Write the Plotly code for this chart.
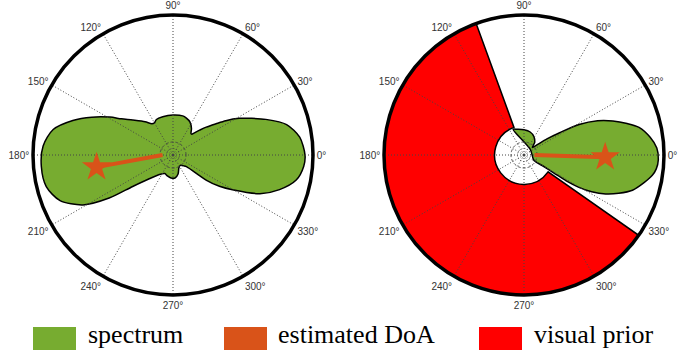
import numpy as np
import plotly.graph_objects as go

W, H = 694, 351

GREEN = "#77AC30"
ORANGE = "#D95319"
RED = "#FF0000"
GRID = "#444444"

# Spatial spectrum outline, left panel (angle in degrees, normalised magnitude)
spec_left_theta = [0, 8, 15, 21, 25, 29, 33, 36, 40, 43, 46, 48, 50, 55, 63, 70, 76,
                   90, 105, 115, 120, 124, 130, 139, 145, 149, 155, 161, 168, 176,
                   185, 194, 202, 209, 214, 218, 225, 235, 246, 255, 265, 275, 285,
                   295, 305, 315, 319, 323, 326, 330, 336, 342, 348.5, 355]
spec_left_r = [0.943, 0.914, 0.84, 0.71, 0.62, 0.54, 0.45, 0.38, 0.31, 0.26, 0.22, 0.20,
               0.20, 0.23, 0.266, 0.28, 0.288, 0.286, 0.283, 0.28, 0.265, 0.27, 0.31,
               0.38, 0.45, 0.526, 0.64, 0.757, 0.875, 0.93, 0.944, 0.933, 0.87, 0.735,
               0.55, 0.365, 0.24, 0.17, 0.145, 0.155, 0.165, 0.165, 0.14, 0.10, 0.09,
               0.11, 0.127, 0.30, 0.40, 0.50, 0.68, 0.80, 0.898, 0.937]

# Spatial spectrum outline after applying the visual prior, right panel
spec_right_theta = [113, 105, 90, 75, 62, 50, 42, 38, 35, 32, 29, 25, 21, 17, 13.5, 8,
                    3, -2, -6, -9, -13, -18, -22, -25.5, -28.5, -30.5, -31.5, -31, -30,
                    -28, 40]
spec_right_r = [0.20, 0.19, 0.18, 0.17, 0.15, 0.12, 0.08, 0.12, 0.20, 0.30, 0.45, 0.58,
                0.68, 0.77, 0.845, 0.91, 0.95, 0.96, 0.95, 0.928, 0.88, 0.815, 0.73,
                0.646, 0.55, 0.455, 0.35, 0.25, 0.15, 0.08, 0.06]

# Estimated direction of arrival: [arrow start, arrow tip]
doa_left_theta = [180, 189]
doa_left_r = [0.075, 0.553]
doa_right_theta = [0, 358.5]
doa_right_r = [0.075, 0.58]

# Visual prior sector (right panel)
prior_start = 110
prior_end = 325
prior_inner = 0.21
prior_outer = 1.0

angle_ticks = list(range(0, 360, 30))
angle_labels = [f"{a}°" for a in angle_ticks]
ring_levels = [0.047, 0.093]
ring_dashes = ["1px,2px", "3px,2px"]

legend_names = ["spectrum", "estimated DoA", "visual prior"]
legend_colors = [GREEN, ORANGE, RED]
legend_box_x = [33, 224, 479]     # left edge of each swatch, px
legend_text_x = [86, 276, 532]

fig = go.Figure()


def add_grid(subplot):
    # dotted spokes every 30 degrees, drawn over the filled areas
    th, rr = [], []
    for a in angle_ticks:
        th += [a, a, None]
        rr += [0, 1, None]
    fig.add_trace(go.Scatterpolar(theta=th, r=rr, mode="lines", subplot=subplot,
                                  line=dict(color=GRID, width=1, dash="1px,2px"),
                                  hoverinfo="skip", showlegend=False))
    ring_theta = np.linspace(0, 360, 181)
    for lvl, dash in zip(ring_levels, ring_dashes):
        fig.add_trace(go.Scatterpolar(theta=ring_theta, r=np.full(ring_theta.size, lvl),
                                      mode="lines", subplot=subplot,
                                      line=dict(color=GRID, width=1, dash=dash),
                                      hoverinfo="skip", showlegend=False))
    fig.add_trace(go.Scatterpolar(theta=[0], r=[0], mode="markers", subplot=subplot,
                                  marker=dict(color=GRID, size=3),
                                  hoverinfo="skip", showlegend=False))


def add_doa(subplot, theta, r):
    fig.add_trace(go.Scatterpolar(theta=theta, r=r, mode="lines", subplot=subplot,
                                  line=dict(color=ORANGE, width=4),
                                  hoverinfo="skip", showlegend=False))
    fig.add_trace(go.Scatterpolar(theta=theta[-1:], r=r[-1:], mode="markers",
                                  subplot=subplot,
                                  marker=dict(symbol="star", size=22, color=ORANGE,
                                              line=dict(width=0)),
                                  hoverinfo="skip", showlegend=False))


# Left panel: raw spectrum
fig.add_trace(go.Scatterpolar(theta=spec_left_theta + spec_left_theta[:1],
                              r=spec_left_r + spec_left_r[:1],
                              mode="lines", fill="toself", fillcolor=GREEN,
                              line=dict(color="black", width=1.5, shape="spline",
                                        smoothing=0.8),
                              subplot="polar", showlegend=False))
add_grid("polar")
add_doa("polar", doa_left_theta, doa_left_r)

# Right panel: visual prior sector plus masked spectrum
fig.add_trace(go.Barpolar(theta=[(prior_start + prior_end) / 2],
                          width=[prior_end - prior_start],
                          base=[prior_inner], r=[prior_outer - prior_inner],
                          marker=dict(color=RED, line=dict(color="black", width=1.5)),
                          subplot="polar2", showlegend=False))
fig.add_trace(go.Scatterpolar(theta=spec_right_theta + spec_right_theta[:1],
                              r=spec_right_r + spec_right_r[:1],
                              mode="lines", fill="toself", fillcolor=GREEN,
                              line=dict(color="black", width=1.5, shape="spline",
                                        smoothing=0.8),
                              subplot="polar2", showlegend=False))
add_grid("polar2")
add_doa("polar2", doa_right_theta, doa_right_r)


def polar_layout(cx):
    rad = 140
    cy = 155
    return dict(
        domain=dict(x=[(cx - rad) / W, (cx + rad) / W],
                    y=[1 - (cy + rad) / H, 1 - (cy - rad) / H]),
        bgcolor="white",
        barmode="overlay",
        radialaxis=dict(range=[0, 1], showgrid=False, showline=False,
                        showticklabels=False, ticks=""),
        angularaxis=dict(rotation=0, direction="counterclockwise",
                         tickmode="array", tickvals=angle_ticks, ticktext=angle_labels,
                         showgrid=False, showline=True, linecolor="black",
                         linewidth=3.5, ticks="",
                         tickfont=dict(family="Liberation Sans", size=10,
                                       color="#333333")),
    )


shapes = []
annotations = []
for name, color, bx, tx in zip(legend_names, legend_colors, legend_box_x, legend_text_x):
    shapes.append(dict(type="rect", xref="paper", yref="paper",
                       x0=bx / W, x1=(bx + 43) / W,
                       y0=1 - 350 / H, y1=1 - 327 / H,
                       fillcolor=color, line=dict(width=0)))
    annotations.append(dict(text=name, xref="paper", yref="paper",
                            x=tx / W, y=1 - 334 / H, xanchor="left", yanchor="middle",
                            showarrow=False,
                            font=dict(family="Liberation Serif", size=26, color="black")))

fig.update_layout(
    width=W, height=H,
    margin=dict(l=0, r=0, t=0, b=0),
    paper_bgcolor="white",
    plot_bgcolor="white",
    polar=polar_layout(173),
    polar2=polar_layout(524),
    shapes=shapes,
    annotations=annotations,
    showlegend=False,
)

fig.write_html("out.html")
